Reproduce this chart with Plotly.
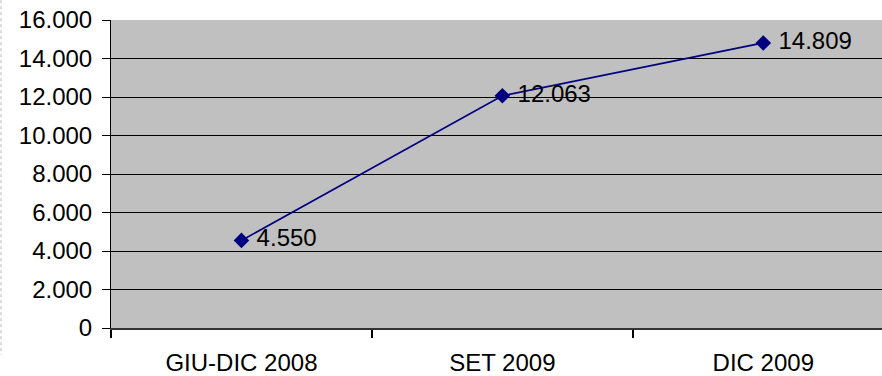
import plotly.graph_objects as go

categories = ["GIU-DIC 2008", "SET 2009", "DIC 2009"]
values = [4550, 12063, 14809]
y_ticks = [0, 2000, 4000, 6000, 8000, 10000, 12000, 14000, 16000]

FONT = "Liberation Sans, Arial, sans-serif"

fig = go.Figure()
fig.add_trace(go.Scatter(
    x=categories, y=values,
    mode="lines+markers+text",
    line=dict(color="#000080", width=1.7),
    marker=dict(symbol="diamond", size=12, color="#000080"),
    texttemplate="\u00a0%{y:,d}",
    textposition="middle right",
    textfont=dict(family=FONT, size=24, color="black"),
    cliponaxis=False,
    showlegend=False,
))

W, H = 882, 376
L, R, T, B = 111, 0, 20, 46
pw, ph = W - L - R, H - T - B

fig.update_layout(
    width=W, height=H,
    margin=dict(l=L, r=R, t=T, b=B, pad=0),
    paper_bgcolor="white",
    plot_bgcolor="#C0C0C0",
    separators=",.",
    font=dict(family=FONT, size=24, color="black"),
    xaxis=dict(
        type="category",
        range=[-0.5, 2.455],
        tickson="boundaries",
        ticks="outside", ticklen=8, tickcolor="black", tickwidth=2,
        ticklabelstandoff=12,
        showgrid=False,
        showline=True, linecolor="#333333", linewidth=2,
        tickfont=dict(family=FONT, size=24),
        fixedrange=True,
    ),
    yaxis=dict(
        range=[0, 16000],
        tickvals=y_ticks,
        tickformat=",d",
        ticks="outside", ticklen=8, tickcolor="black", tickwidth=1,
        ticklabelstandoff=5,
        showgrid=True, gridcolor="black", gridwidth=1,
        showline=True, linecolor="black", linewidth=1,
        zeroline=False,
        tickfont=dict(family=FONT, size=24),
        fixedrange=True,
    ),
    shapes=[dict(
        type="line", xref="paper", yref="paper",
        x0=-110 / pw, x1=-110 / pw,
        y0=1 + 20 / ph, y1=-27 / ph,
        line=dict(color="#BBBBBB", width=1, dash="dot"),
    )],
)

fig.write_html("out.html", config={"displayModeBar": False},
               post_script="document.body.style.margin='0';")
